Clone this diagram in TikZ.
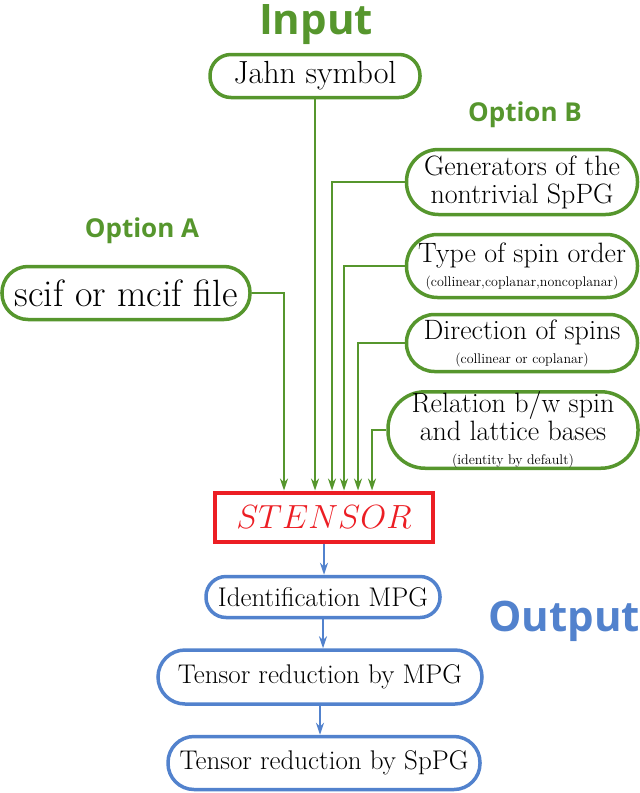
\RequirePackage{fix-cm}
\documentclass[tikz,border=0pt]{standalone}
\usepackage{fontspec}
\newfontfamily\titrefont{Open Sans}
\usetikzlibrary{arrows.meta}

\definecolor{vert}{RGB}{86,150,45}
\definecolor{bleu}{RGB}{82,130,205}
\definecolor{rouge}{RGB}{236,30,36}

\newcommand{\petit}{\fontsize{14}{16}\selectfont}

\begin{document}
\begin{tikzpicture}[x=1pt,y=-1pt,
    entree/.style={draw=vert, line width=3.5pt, align=center, inner sep=0pt,
      font=\fontsize{28}{28}\selectfont},
    sortie/.style={draw=bleu, line width=3.5pt, align=center, inner sep=0pt,
      font=\fontsize{27}{30}\selectfont},
    fleche/.style={vert, line width=1.6pt, -{Stealth[length=12pt,width=8pt]}},
    flechebleue/.style={bleu, line width=1.6pt, -{Stealth[length=12pt,width=8pt]}},
    titre/.style={font=\titrefont\bfseries\fontsize{42}{42}\selectfont}]
        \useasboundingbox (0,0) rectangle (640,793);
        % Titres
        \node[titre, text=vert] (input) at (316,25) {Input};
        \node[titre, text=vert, font=\titrefont\bfseries\fontsize{26}{26}\selectfont] (optb) at (525,115) {Option B};
        \node[titre, text=vert, font=\titrefont\bfseries\fontsize{26}{26}\selectfont] (opta) at (142,231) {Option A};
        \node[titre, text=bleu] (output) at (564,621) {Output};
        % Entrées
        \node[entree, rounded corners=21pt, minimum width=210pt, minimum height=43pt,
          font=\fontsize{32}{36}\selectfont] (jahn) at (315,76) {Jahn symbol};
        \node[entree, rounded corners=26pt, minimum width=248pt, minimum height=53pt,
          font=\fontsize{38}{42}\selectfont] (scif) at (126,293) {scif or mcif file};
        \node[entree, rounded corners=32pt, minimum width=231pt, minimum height=65pt] (gen) at (522,182)
          {Generators of the\\nontrivial SpPG};
        \node[entree, rounded corners=31pt, minimum width=231pt, minimum height=63pt] (type) at (522,266)
          {Type of spin order\\[-4pt]{\petit (collinear,coplanar,noncoplanar)}};
        \node[entree, rounded corners=28pt, minimum width=231pt, minimum height=57pt] (dir) at (522,343)
          {Direction of spins\\[-4pt]{\petit (collinear or coplanar)}};
        \node[entree, rounded corners=37pt, minimum width=250pt, minimum height=75pt] (rel) at (513,430)
          {Relation b/w spin\\and lattice bases\\[-4pt]{\petit (identity by default)}};
        % Programme
        \node[draw=rouge, line width=4pt, minimum width=218pt, minimum height=49pt,
          text=rouge, font=\fontsize{33.5}{38}\selectfont] (stensor) at (324,517) {$STENSOR$};
        % Sorties
        \node[sortie, rounded corners=20pt, minimum width=234pt, minimum height=41pt] (ident) at (323,597)
          {Identification MPG};
        \node[sortie, rounded corners=27pt, minimum width=324pt, minimum height=54pt] (redmpg) at (320,677)
          {Tensor reduction by MPG};
        \node[sortie, rounded corners=26pt, minimum width=312pt, minimum height=53pt] (redsppg) at (324,763)
          {Tensor reduction by SpPG};
        % Flèches vertes
        \draw[fleche] (scif.east) -| ([xshift=-40pt]stensor.north);
        \draw[fleche] (jahn.south) -- (jahn.south |- stensor.north);
        \draw[fleche] (gen.west) -| ([xshift=8pt]stensor.north);
        \draw[fleche] (type.west) -| ([xshift=20pt]stensor.north);
        \draw[fleche] (dir.west) -| ([xshift=34pt]stensor.north);
        \draw[fleche] (rel.west) -| ([xshift=48pt]stensor.north);
        % Flèches bleues
        \draw[flechebleue] (stensor.south) -- (stensor.south |- ident.north);
        \draw[flechebleue] (ident.south) -- (ident.south |- redmpg.north);
        \draw[flechebleue] (redmpg.south) -- (redmpg.south |- redsppg.north);
    \end{tikzpicture}
\end{document}
